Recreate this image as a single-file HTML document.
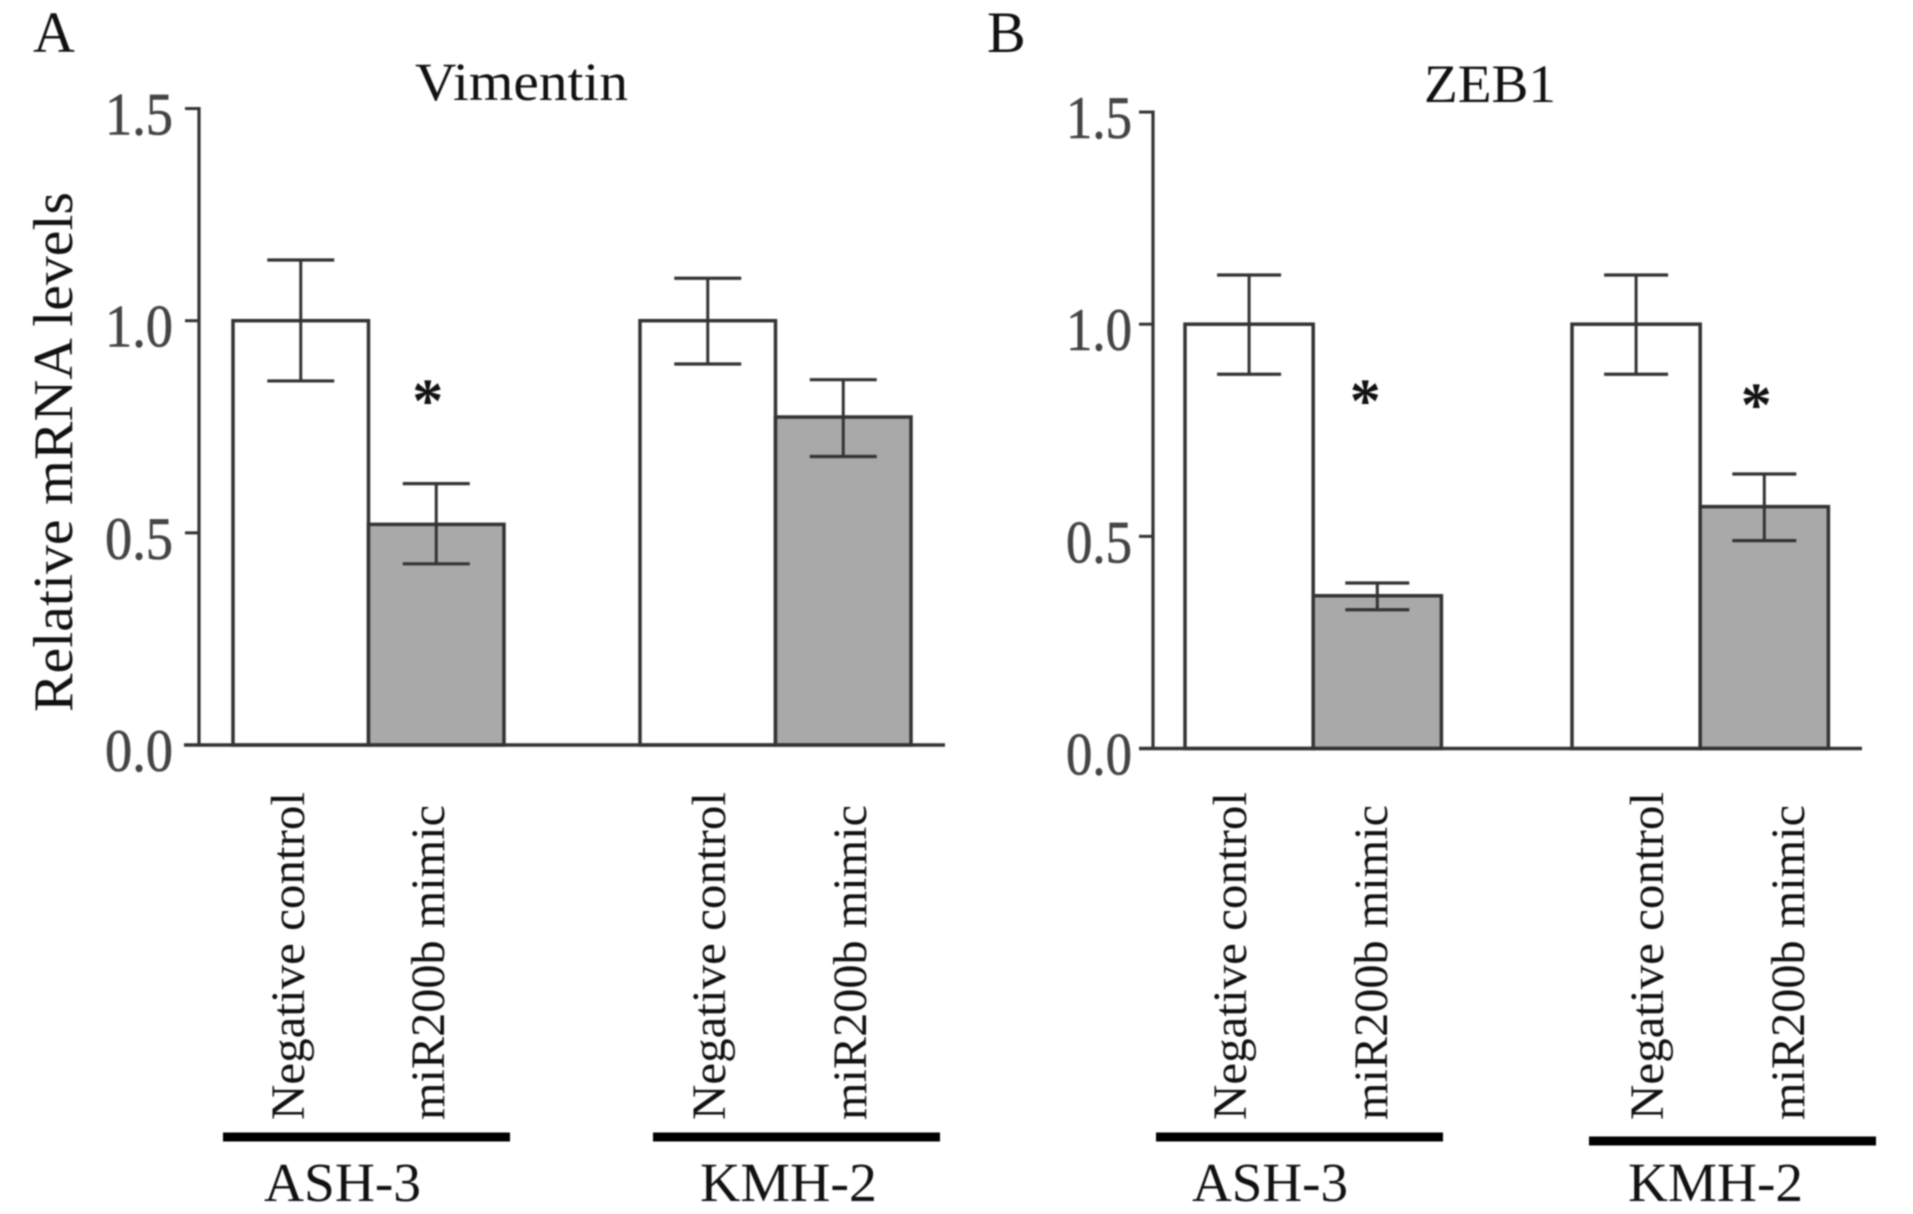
<!DOCTYPE html>
<html lang="en">
<head>
<meta charset="utf-8">
<title>Vimentin and ZEB1 relative mRNA levels</title>
<style>
html,body{margin:0;padding:0;background:#fff;}
svg{display:block;filter:blur(0.7px);}
text{font-family:"Liberation Serif",serif;fill:#111;}
.tick{fill:#444;stroke:#444;stroke-width:0.6px;}
</style>
</head>
<body>
<svg id="figure" width="1913" height="1214" viewBox="0 0 1913 1214" xmlns="http://www.w3.org/2000/svg">
  <rect x="0" y="0" width="1913" height="1214" fill="#fff"/>
  <text x="33" y="52" font-size="58">A</text>
  <text x="987" y="52" font-size="58">B</text>
  <text x="415" y="100" font-size="54" textLength="213" lengthAdjust="spacingAndGlyphs">Vimentin</text>
  <text x="1424" y="102" font-size="54" textLength="132" lengthAdjust="spacingAndGlyphs">ZEB1</text>
  <text transform="translate(72,712) rotate(-90)" font-size="56" textLength="520" lengthAdjust="spacingAndGlyphs">Relative mRNA levels</text>
  <g id="panel-a"></g>
  <g id="panel-b"></g>
  <rect x="223" y="1132.5" width="287" height="9" fill="#000"/>
  <rect x="653" y="1132.5" width="287" height="9" fill="#000"/>
  <rect x="1156" y="1132.5" width="287" height="9" fill="#000"/>
  <rect x="1589" y="1136.5" width="287" height="9" fill="#000"/>
  <text x="264" y="1201" font-size="55" textLength="157" lengthAdjust="spacingAndGlyphs">ASH-3</text>
  <text x="700" y="1201" font-size="55" textLength="177" lengthAdjust="spacingAndGlyphs">KMH-2</text>
  <text x="1192" y="1201" font-size="55" textLength="156" lengthAdjust="spacingAndGlyphs">ASH-3</text>
  <text x="1628" y="1201" font-size="55" textLength="175" lengthAdjust="spacingAndGlyphs">KMH-2</text>
</svg>
<script>
// Chart data
const categories = ["Negative control", "miR200b mimic", "Negative control", "miR200b mimic"];
const tickLabels = ["0.0", "0.5", "1.0", "1.5"];
const tickValues = [0, 0.5, 1.0, 1.5];

const vimentinValues = [1.0, 0.52, 1.0, 0.773];
const vimentinUpper = [1.143, 0.616, 1.10, 0.861];
const vimentinLower = [0.858, 0.427, 0.898, 0.68];
const vimentinStars = [null, 0.827, null, null];

const zebValues = [1.0, 0.36, 1.0, 0.57];
const zebUpper = [1.116, 0.39, 1.116, 0.647];
const zebLower = [0.882, 0.327, 0.882, 0.49];
const zebStars = [null, 0.835, null, 0.826];

const NS = "http://www.w3.org/2000/svg";
function make(parent, tag, attrs, content) {
  const el = document.createElementNS(NS, tag);
  for (const k in attrs) el.setAttribute(k, attrs[k]);
  if (content !== undefined) el.textContent = content;
  parent.appendChild(el);
  return el;
}

function drawPanel(cfg, values, upper, lower, stars) {
  const g = document.getElementById(cfg.id);
  const yScale = v => cfg.y0 - v * cfg.unit;
  const xLeft = i => cfg.groupStart[Math.floor(i / 2)] + (i % 2) * cfg.barW;
  const stroke = "#333";

  values.forEach((v, i) => {
    const bar = make(g, "rect", {
      x: xLeft(i), y: yScale(v), width: cfg.barW, height: cfg.y0 - yScale(v),
      fill: i % 2 ? "#a9a9a9" : "#fff", stroke: stroke, "stroke-width": 3.5
    });
    
    
  });

  values.forEach((v, i) => {
    const cx = xLeft(i) + cfg.barW / 2;
    const yTop = yScale(upper[i]);
    const yBot = yScale(lower[i]);
    const stem = make(g, "line", { x1: cx, x2: cx, y1: yTop, y2: yBot, stroke: stroke, "stroke-width": 3 });
    
    
    const capTop = make(g, "line", { x1: cx - cfg.cap, x2: cx + cfg.cap, y1: yTop, y2: yTop, stroke: stroke, "stroke-width": 3.2 });
    
    
    const capBot = make(g, "line", { x1: cx - cfg.cap, x2: cx + cfg.cap, y1: yBot, y2: yBot, stroke: stroke, "stroke-width": 3.2 });
    
    
  });

  stars.forEach((s, i) => {
    if (s === null) return;
    const cx = xLeft(i) + cfg.barW / 2 + cfg.starDx[i];
    const star = make(g, "text", {
      x: cx, y: yScale(s) + 27.5, "font-size": 62, "font-weight": "bold", "text-anchor": "middle"
    }, "*");
    
    
  });

  const yAxis = make(g, "line", { x1: cfg.axisX, x2: cfg.axisX, y1: yScale(1.5) - 1.5, y2: cfg.y0, stroke: stroke, "stroke-width": 3.2 });
  
  
  const xAxis = make(g, "line", { x1: cfg.baseL, x2: cfg.baseR, y1: cfg.y0, y2: cfg.y0, stroke: stroke, "stroke-width": 3.5 });
  
  

  tickValues.forEach((t, i) => {
    const y = yScale(t);
    const mark = make(g, "line", { x1: cfg.axisX - 14, x2: cfg.axisX, y1: y, y2: y, stroke: stroke, "stroke-width": 3 });
    
    
    const label = make(g, "text", {
      x: cfg.labelX, y: y + 26, "font-size": 60, "class": "tick",
      textLength: cfg.labelW, lengthAdjust: "spacingAndGlyphs"
    }, tickLabels[i]);
    
    
  });

  categories.forEach((c, i) => {
    const x = cfg.catBaseline[i];
    const label = make(g, "text", {
      transform: "translate(" + x + ",1120) rotate(-90)", "font-size": 48,
      textLength: i % 2 ? 315 : 328, lengthAdjust: "spacingAndGlyphs"
    }, c);
    
    
  });
}

drawPanel({
  id: "panel-a", y0: 745, unit: 424.3, axisX: 199, baseL: 184, baseR: 945,
  groupStart: [233, 640], barW: 135.5, cap: 33.5, labelX: 105, labelW: 68,
  starDx: [0, -8.5, 0, 0], catBaseline: [304, 444, 725, 866]
}, vimentinValues, vimentinUpper, vimentinLower, vimentinStars);

drawPanel({
  id: "panel-b", y0: 748.5, unit: 424.3, axisX: 1153, baseL: 1139, baseR: 1862,
  groupStart: [1185, 1572], barW: 128.2, cap: 32, labelX: 1066, labelW: 66,
  starDx: [0, -12, 0, -8], catBaseline: [1246, 1387, 1663, 1804]
}, zebValues, zebUpper, zebLower, zebStars);
</script>
</body>
</html>
